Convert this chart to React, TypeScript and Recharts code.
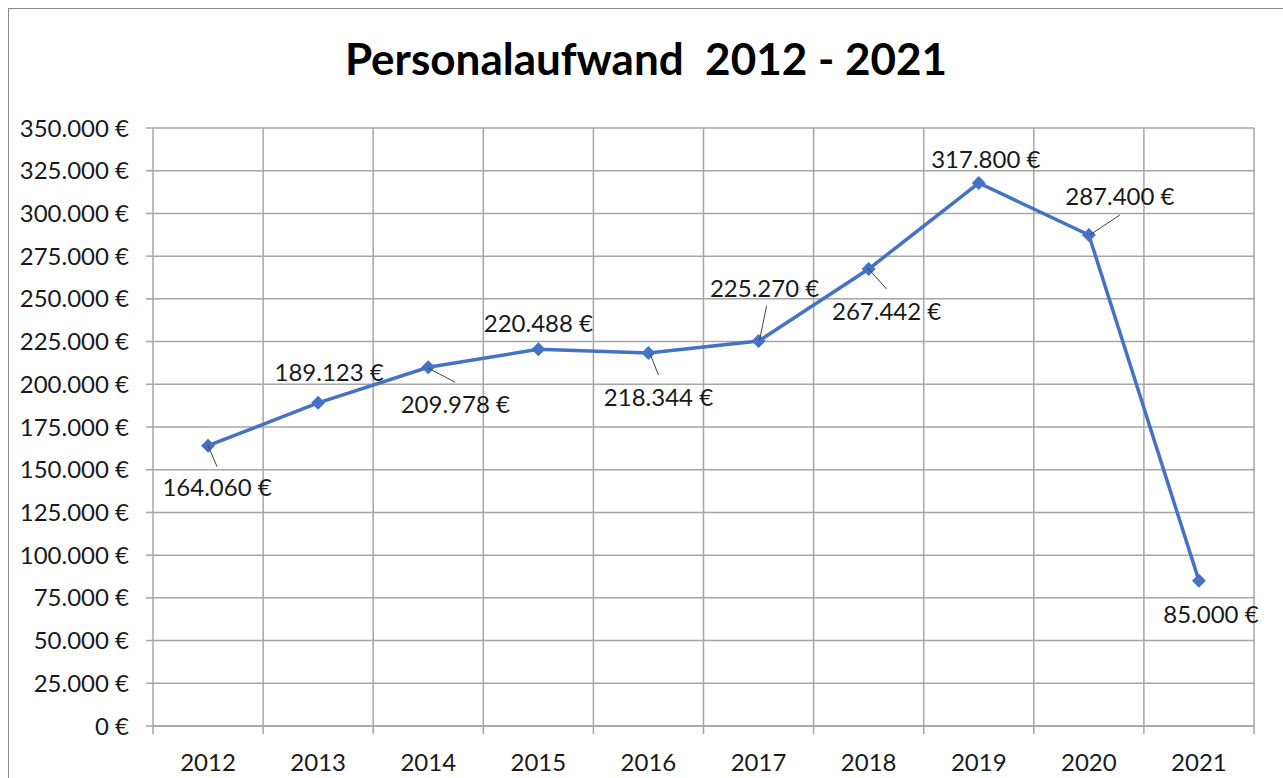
import { LineChart, Line, XAxis, YAxis, CartesianGrid, LabelList } from "recharts";

const years = ["2012", "2013", "2014", "2015", "2016", "2017", "2018", "2019", "2020", "2021"];
const personnelCost = [164060, 189123, 209978, 220488, 218344, 225270, 267442, 317800, 287400, 85000];
const yTicks = [0, 25000, 50000, 75000, 100000, 125000, 150000, 175000, 200000, 225000, 250000, 275000, 300000, 325000, 350000];

const data = years.map((year, i) => ({ year, value: personnelCost[i] }));

// where each data label sits relative to its point, plus optional leader line
const labelPlacement = [
  { dx: 9, dy: 41, leader: [0, 0, 9, 21] },
  { dx: 11, dy: -31 },
  { dx: 27, dy: 36, leader: [0, 1, 27, 15] },
  { dx: 0, dy: -27 },
  { dx: 10, dy: 44, leader: [2, 2, 10, 22] },
  { dx: 6, dy: -54, leader: [8, -35, 1, -1] },
  { dx: 18, dy: 41, leader: [-1, -1, 18, 20] },
  { dx: 7, dy: -25 },
  { dx: 31, dy: -39, leader: [1, 0, 31, -20] },
  { dx: 12, dy: 33 },
];

const FONT = "Lato, 'Open Sans', sans-serif";
const GRID = "#a6a6a6";
const BLUE = "#4472C4";
const TEXT = "#1a1a1a";
const FS = 24;

const W = 1274;
const H = 769;
const margin = { top: 119, right: 29, bottom: 0, left: 0 };
const yAxisWidth = 144;
const band = (W - margin.left - margin.right - yAxisWidth) / years.length;

const euro = (v: number) => v.toString().replace(/\B(?=(\d{3})+(?!\d))/g, ".") + " €";

function Diamond(props: any) {
  const { cx, cy } = props;
  if (cx == null || cy == null) return null;
  const r = 7;
  return <polygon points={`${cx},${cy - r} ${cx + r},${cy} ${cx},${cy + r} ${cx - r},${cy}`} fill={BLUE} />;
}

function ValueLabel(props: any) {
  const { x, y, index, value } = props;
  const p = labelPlacement[index];
  return (
    <g>
      {p.leader && (
        <line
          x1={x + p.leader[0]}
          y1={y + p.leader[1]}
          x2={x + p.leader[2]}
          y2={y + p.leader[3]}
          stroke="#404040"
          strokeWidth={1}
        />
      )}
      <text x={x + p.dx} y={y + p.dy} textAnchor="middle" dominantBaseline="central" fill={TEXT} fontSize={FS} fontFamily={FONT}>
        {euro(value)}
      </text>
    </g>
  );
}

function YearTick(props: any) {
  const { x, y, payload, index } = props;
  const left = x - band / 2;
  return (
    <g>
      <line x1={left} y1={y} x2={left} y2={y + 8} stroke={GRID} strokeWidth={1.5} />
      {index === years.length - 1 && <line x1={x + band / 2} y1={y} x2={x + band / 2} y2={y + 8} stroke={GRID} strokeWidth={1.5} />}
      <text x={x} y={y + 35} textAnchor="middle" dominantBaseline="central" fill={TEXT} fontSize={FS} fontFamily={FONT}>
        {payload.value}
      </text>
    </g>
  );
}

export default function App() {
  return (
    <div
      style={{
        position: "absolute",
        left: 8,
        top: 8,
        width: W,
        height: H,
        borderTop: "1px solid #8c8c8c",
        borderLeft: "1px solid #8c8c8c",
        background: "#fff",
        overflow: "hidden",
      }}
    >
      <div
        style={{
          position: "absolute",
          top: 27,
          left: 0,
          width: W,
          textAlign: "center",
          fontFamily: FONT,
          fontWeight: 700,
          fontSize: 44,
          lineHeight: "44px",
          whiteSpace: "pre",
          color: "#000",
        }}
      >
        Personalaufwand  2012 - 2021
      </div>
      <LineChart width={W} height={H} data={data} margin={margin}>
        <CartesianGrid
          stroke={GRID}
          strokeWidth={1.5}
          verticalCoordinatesGenerator={({ offset }: any) =>
            years.map((_, i) => offset.left + i * (offset.width / years.length)).concat(offset.left + offset.width)
          }
        />
        <XAxis
          dataKey="year"
          height={52}
          padding={{ left: band / 2, right: band / 2 }}
          axisLine={{ stroke: GRID, strokeWidth: 1.5 }}
          tickLine={false}
          tickSize={0}
          tickMargin={0}
          interval={0}
          tick={<YearTick />}
        />
        <YAxis
          width={yAxisWidth}
          domain={[0, 350000]}
          ticks={yTicks}
          interval={0}
          axisLine={false}
          tickLine={{ stroke: GRID, strokeWidth: 1.5 }}
          tickSize={7}
          tickMargin={17}
          tickFormatter={euro}
          tick={{ fill: TEXT, fontSize: FS, fontFamily: FONT }}
        />
        <Line
          dataKey="value"
          stroke={BLUE}
          strokeWidth={3.5}
          dot={<Diamond />}
          activeDot={false}
          isAnimationActive={false}
        >
          <LabelList dataKey="value" content={<ValueLabel />} />
        </Line>
      </LineChart>
    </div>
  );
}
